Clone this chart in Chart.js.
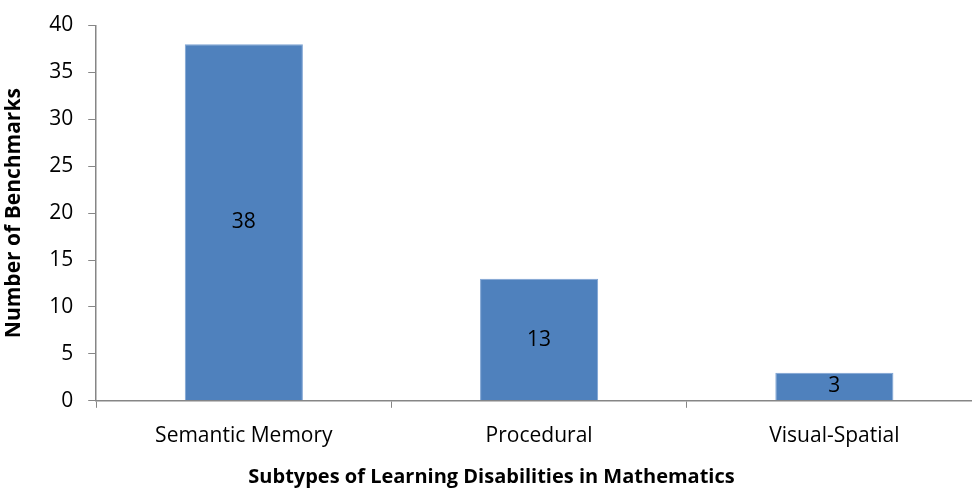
<!DOCTYPE html>
<html>
<head>
<meta charset="utf-8">
<script src="https://cdn.jsdelivr.net/npm/chart.js@4"></script>
<style>
  html, body { margin: 0; padding: 0; background: #fff; }
  /* the axis runs slightly past the right edge of the frame */
  #frame { width: 972px; height: 489px; overflow: hidden; }
  #wrap { width: 984px; height: 489px; }
</style>
</head>
<body>
<div id="frame"><div id="wrap"><canvas id="chart"></canvas></div></div>
<script>
const categories = ["Semantic Memory", "Procedural", "Visual-Spatial"];
const benchmarks = [38, 13, 3];
const yTicks = [0, 5, 10, 15, 20, 25, 30, 35, 40];

const FONT = "'Open Sans', 'Liberation Sans', sans-serif";
const AXIS = "#868686";

// value labels in the middle of each bar
const barLabels = {
  id: "barLabels",
  afterDatasetsDraw(chart) {
    const ctx = chart.ctx;
    const meta = chart.getDatasetMeta(0);
    ctx.save();
    ctx.font = "21px " + FONT;
    ctx.fillStyle = "#000";
    ctx.textAlign = "center";
    ctx.textBaseline = "middle";
    meta.data.forEach((bar, i) => {
      const mid = (bar.y + bar.base) / 2;
      ctx.fillText(String(benchmarks[i]), bar.x, mid);
    });
    ctx.restore();
  },
};

new Chart(document.getElementById("chart"), {
  type: "bar",
  data: {
    labels: categories,
    datasets: [
      {
        data: benchmarks,
        backgroundColor: "#4F81BD",
        borderColor: "#7DA3D3",
        borderWidth: 1,
        categoryPercentage: 1,
        barPercentage: 0.4,
      },
    ],
  },
  options: {
    responsive: true,
    maintainAspectRatio: false,
    animation: false,
    layout: { padding: { top: 14, right: 2, left: 1, bottom: 0 } },
    plugins: {
      legend: { display: false },
      tooltip: { enabled: false },
      title: {
        display: true,
        position: "bottom",
        text: "Subtypes of Learning Disabilities in Mathematics",
        color: "#000",
        font: { family: FONT, size: 20, weight: "bold" },
        padding: { top: 0, bottom: 0 },
      },
    },
    scales: {
      x: {
        grid: {
          display: true,
          drawOnChartArea: false,
          drawTicks: true,
          tickLength: 7,
          color: AXIS,
          offset: true,
        },
        border: { color: AXIS, width: 1.5 },
        ticks: { color: "#000", font: { family: FONT, size: 21 }, padding: 16 },
      },
      y: {
        min: 0,
        max: 40,
        afterBuildTicks(axis) {
          axis.ticks = yTicks.map((v) => ({ value: v }));
        },
        grid: {
          display: true,
          drawOnChartArea: false,
          drawTicks: true,
          tickLength: 8,
          color: AXIS,
        },
        border: { color: AXIS, width: 1.5 },
        ticks: {
          color: "#000",
          font: { family: FONT, size: 21, lineHeight: 1 },
          padding: 15,
        },
        title: {
          display: true,
          text: "Number of Benchmarks",
          color: "#000",
          font: { family: FONT, size: 21, weight: "bold" },
          padding: { top: 0, bottom: 8 },
        },
      },
    },
  },
  plugins: [barLabels],
});
</script>
</body>
</html>
